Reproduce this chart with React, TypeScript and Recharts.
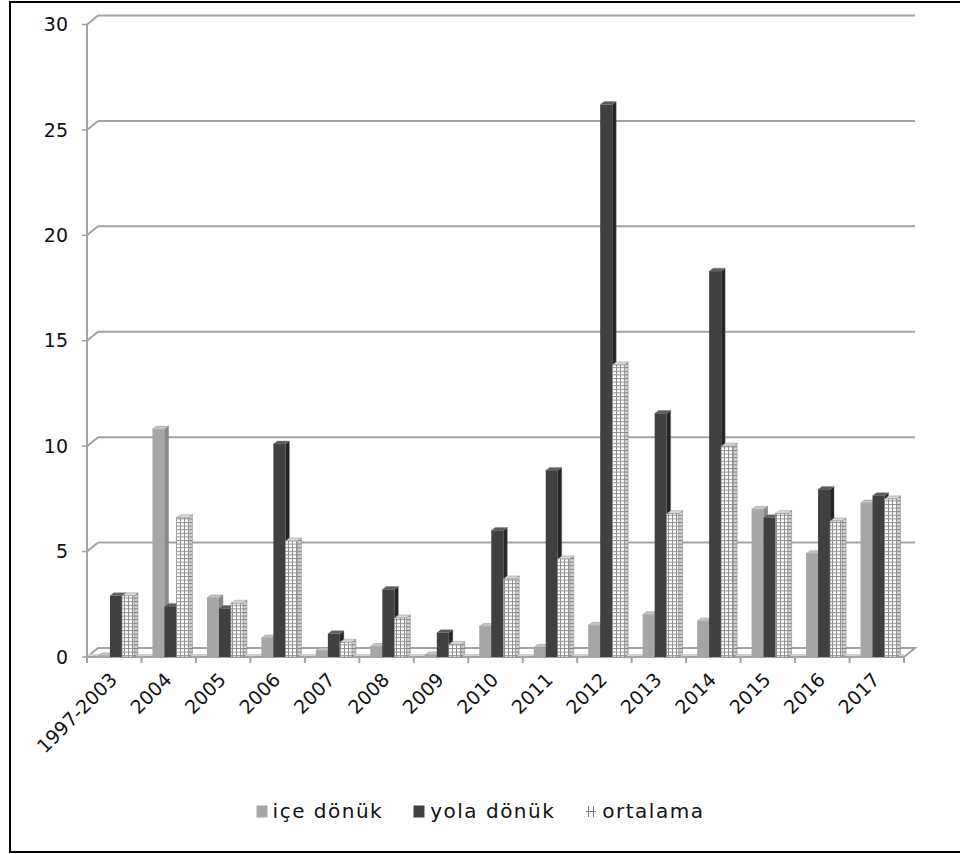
import React from 'react';
import { BarChart, Bar, XAxis, YAxis, CartesianGrid, Legend } from 'recharts';

// Yıllara göre oranlar
const categories = ['1997-2003', '2004', '2005', '2006', '2007', '2008', '2009', '2010', '2011', '2012', '2013', '2014', '2015', '2016', '2017'];
const iceDonuk = [0.05, 10.8, 2.8, 0.9, 0.3, 0.5, 0.1, 1.45, 0.45, 1.5, 2.0, 1.7, 7.0, 4.9, 7.3];
const yolaDonuk = [2.9, 2.4, 2.3, 10.1, 1.1, 3.2, 1.15, 6.0, 8.85, 26.2, 11.55, 18.3, 6.6, 7.95, 7.65];
const ortalama = [2.9, 6.6, 2.55, 5.5, 0.7, 1.85, 0.6, 3.7, 4.65, 13.85, 6.8, 10.0, 6.8, 6.45, 7.5];
const yTicks = [0, 5, 10, 15, 20, 25, 30];

const seriesKeys = ['ice', 'yola', 'ort'];
const seriesNames: Record<string, string> = { ice: 'içe dönük', yola: 'yola dönük', ort: 'ortalama' };

const data = categories.map((c, i) => ({
  name: c,
  ice: iceDonuk[i],
  yola: yolaDonuk[i],
  ort: ortalama[i],
}));

// depth of the pseudo-3D box (back wall offset)
const DX = 11;
const DY = 9;
// depth of each column
const BD = 4;
const BE = 3;

const FONT = '"DejaVu Sans", Verdana, sans-serif';
const GRID = '#a3a3a3';

type Faces = { front: string; side: string; top: string };
const faces: Record<string, Faces> = {
  ice: { front: '#a6a6a6', side: '#8a8a8a', top: '#c4c4c4' },
  yola: { front: '#404040', side: '#242424', top: '#5c5c5c' },
  ort: { front: 'url(#ortGrid)', side: 'url(#ortGridSide)', top: '#d9d9d9' },
};

const makeColumn = (key: string) => (props: any) => {
  const { x, y, width, height } = props;
  if (width == null || height == null) return null;
  const f = faces[key];
  const x0 = x + 2;
  const w = width;
  const h = Math.max(height, 0.5);
  const y0 = y + height - h;
  return (
    <g>
      <polygon
        points={`${x0 + w},${y0} ${x0 + w + BD},${y0 - BE} ${x0 + w + BD},${y0 + h - BE} ${x0 + w},${y0 + h}`}
        fill={f.side}
        stroke="#6f6f6f"
        strokeWidth={0.4}
      />
      <polygon
        points={`${x0},${y0} ${x0 + BD},${y0 - BE} ${x0 + w + BD},${y0 - BE} ${x0 + w},${y0}`}
        fill={f.top}
        stroke="#7a7a7a"
        strokeWidth={0.4}
      />
      <rect x={x0} y={y0} width={w} height={h} fill={f.front} stroke={key === 'ort' ? '#8c8c8c' : 'none'} strokeWidth={0.6} />
    </g>
  );
};

// back-wall gridlines with the little diagonal connector to the value axis,
// and the floor of the box for the zero line
const renderGridLine = (props: any) => {
  const { x1, x2, y1, index } = props;
  if (index === 0) {
    return (
      <g key={`floor-${index}`}>
        <polygon
          points={`${x1},${y1} ${x1 + DX},${y1 - DY} ${x2 + DX},${y1 - DY} ${x2},${y1}`}
          fill="#ffffff"
          stroke={GRID}
          strokeWidth={2}
        />
        <line x1={x1} y1={y1 - 2} x2={x2} y2={y1 - 2} stroke="#d0d0d0" strokeWidth={2} />
      </g>
    );
  }
  return (
    <g key={`gl-${index}`}>
      <line x1={x1} y1={y1} x2={x1 + DX} y2={y1 - DY} stroke={GRID} strokeWidth={2} />
      <line x1={x1 + DX} y1={y1 - DY} x2={x2 + DX} y2={y1 - DY} stroke={GRID} strokeWidth={2} />
    </g>
  );
};

const CategoryTick = (props: any) => {
  const { x, y, payload, index, width } = props;
  const band = width / categories.length;
  const left = x - band / 2;
  const right = x + band / 2;
  const ax = x + 4;
  const ay = y + 24;
  return (
    <g>
      <line x1={left} y1={y} x2={left} y2={y + 6} stroke={GRID} strokeWidth={2} />
      {index === categories.length - 1 && (
        <line x1={right} y1={y} x2={right} y2={y + 6} stroke={GRID} strokeWidth={2} />
      )}
      <text
        x={ax}
        y={ay}
        transform={`rotate(-45, ${ax}, ${ay})`}
        textAnchor="end"
        fontFamily={FONT}
        fontSize={19}
        fill="#111"
      >
        {payload.value}
      </text>
    </g>
  );
};

const LegendIcon = ({ k }: { k: string }) => {
  if (k === 'ort') {
    return (
      <svg width={12} height={13} style={{ display: 'block' }}>
        <line x1={3.5} y1={1} x2={3.5} y2={12} stroke="#7a7a7a" strokeWidth={1} />
        <line x1={8.5} y1={1} x2={8.5} y2={12} stroke="#7a7a7a" strokeWidth={1} />
        <line x1={1} y1={6.5} x2={11} y2={6.5} stroke="#7a7a7a" strokeWidth={1} />
      </svg>
    );
  }
  return (
    <svg width={12} height={13} style={{ display: 'block' }}>
      <rect x={0.5} y={0.5} width={11} height={12} fill={faces[k].front} />
    </svg>
  );
};

const renderLegend = () => (
  <div
    style={{
      display: 'flex',
      justifyContent: 'center',
      alignItems: 'center',
      fontFamily: FONT,
      fontSize: 20,
      letterSpacing: 1.5,
      color: '#111',
      gap: 30,
    }}
  >
    {seriesKeys.map((k) => (
      <div key={k} style={{ display: 'flex', alignItems: 'center', gap: 5 }}>
        <LegendIcon k={k} />
        <span>{seriesNames[k]}</span>
      </div>
    ))}
  </div>
);

export default function App() {
  return (
    <div
      style={{
        position: 'absolute',
        left: 0,
        top: 0,
        width: 960,
        height: 854,
        overflow: 'hidden',
        background: '#ffffff',
      }}
    >
      <div
        style={{
          position: 'absolute',
          left: 9,
          top: 1,
          width: 980,
          height: 852,
          border: '2px solid #000',
          boxSizing: 'border-box',
        }}
      />
      <BarChart
        width={960}
        height={854}
        data={data}
        margin={{ top: 24.5, right: 56, left: 0, bottom: 137 }}
        barSize={12}
        barGap={0}
        style={{ position: 'absolute', left: 0, top: 0 }}
      >
        <defs>
          <pattern id="ortGrid" width={4} height={3.6} patternUnits="userSpaceOnUse">
            <rect width={4} height={3.6} fill="#ffffff" />
            <line x1={0.5} y1={0} x2={0.5} y2={3.6} stroke="#8f8f8f" strokeWidth={1} />
            <line x1={0} y1={0.5} x2={4} y2={0.5} stroke="#8f8f8f" strokeWidth={1} />
          </pattern>
          <pattern id="ortGridSide" width={4} height={3.6} patternUnits="userSpaceOnUse">
            <rect width={4} height={3.6} fill="#d2d2d2" />
            <line x1={0} y1={0.5} x2={4} y2={0.5} stroke="#7c7c7c" strokeWidth={1} />
          </pattern>
        </defs>
        <CartesianGrid vertical={false} horizontal={renderGridLine} />
        <YAxis
          width={87}
          domain={[0, 30]}
          ticks={yTicks}
          interval={0}
          axisLine={{ stroke: GRID, strokeWidth: 2 }}
          tickLine={{ stroke: GRID, strokeWidth: 1.5 }}
          tickSize={5}
          tickMargin={14}
          tick={{ fill: '#111', fontFamily: FONT, fontSize: 19 }}
        />
        <XAxis
          dataKey="name"
          height={60}
          interval={0}
          axisLine={false}
          tickLine={false}
          tickSize={0}
          tickMargin={0}
          tick={<CategoryTick />}
        />
        <Legend
          layout="horizontal"
          align="center"
          verticalAlign="middle"
          content={renderLegend}
          wrapperStyle={{ top: 799, left: 0, width: 960, height: 26 }}
        />
        <Bar dataKey="ice" name={seriesNames.ice} fill={faces.ice.front} shape={makeColumn('ice')} isAnimationActive={false} />
        <Bar dataKey="yola" name={seriesNames.yola} fill={faces.yola.front} shape={makeColumn('yola')} isAnimationActive={false} />
        <Bar dataKey="ort" name={seriesNames.ort} fill="#ffffff" shape={makeColumn('ort')} isAnimationActive={false} />
      </BarChart>
    </div>
  );
}
